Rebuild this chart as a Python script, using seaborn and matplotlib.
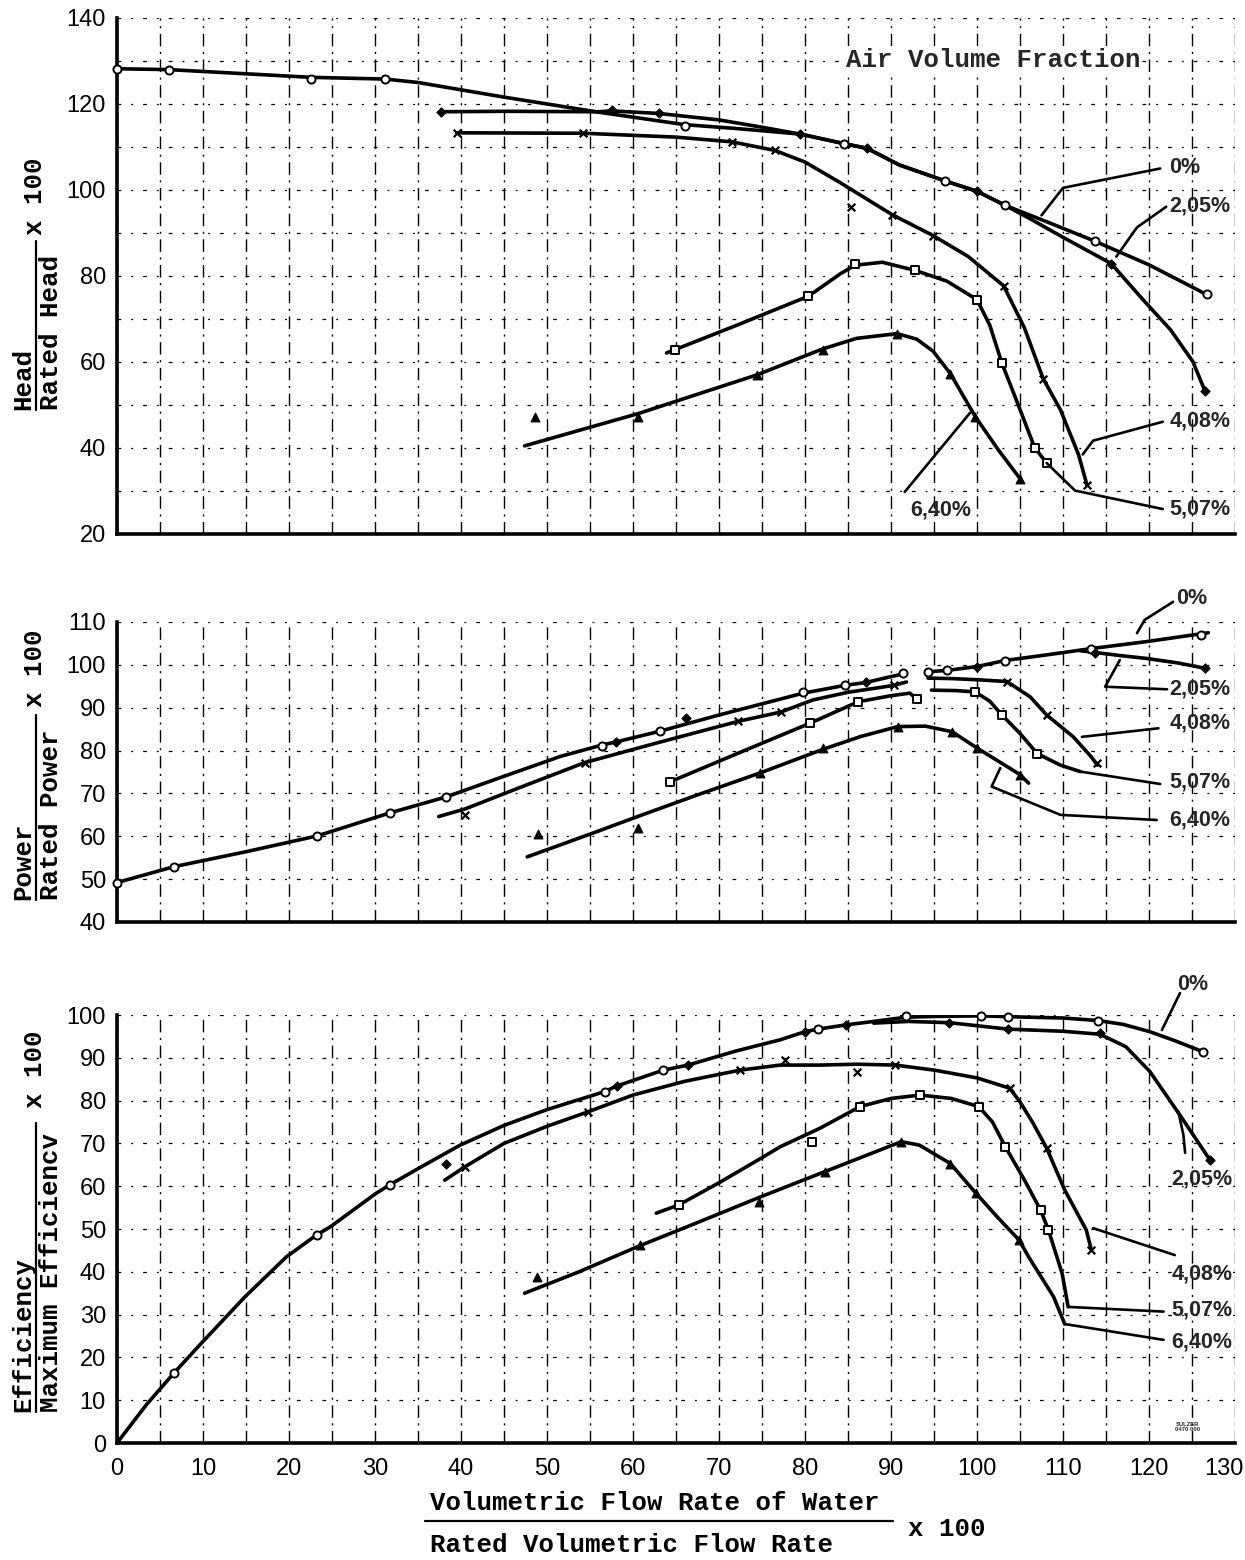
import matplotlib
matplotlib.use("Agg")
import matplotlib.pyplot as plt
from matplotlib.lines import Line2D
from matplotlib.ticker import MultipleLocator
from matplotlib.transforms import ScaledTranslation
from matplotlib import font_manager
import pandas as pd
import seaborn as sns

# ------------------------------------------------------------------
# Pump characteristics with air in the suction flow
# x: volumetric flow rate of water / rated flow rate x 100
# ------------------------------------------------------------------
SERIES = ["0%", "2,05%", "4,08%", "5,07%", "6,40%"]

# ---- Head / Rated Head x 100: curves ----
head_0_x = [0, 6, 22.6, 31.2, 35, 45, 56, 66, 72, 79.5, 84.5, 87.2, 91, 96.3, 100, 103.3, 108.5, 113.7, 120, 126.7]
head_0_y = [128.2, 128, 126.2, 125.8, 125, 121.6, 118.1, 115.2, 114.3, 113, 110.8, 109.7, 105.8, 102.1, 99.7, 96.4, 92.3, 88.1, 82.6, 75.7]
head_205_x = [37.7, 45, 56, 57.5, 63, 70, 75, 79.4, 84.5, 87.2, 91, 96.3, 100, 103.3, 106, 110, 115.6, 119.3, 122.5, 125.1, 126.5]
head_205_y = [118.2, 118.3, 118.2, 118.4, 117.8, 116.3, 114.6, 113, 110.8, 109.7, 105.8, 102.1, 99.7, 96.4, 93.5, 89, 82.9, 74.5, 67.5, 60.1, 53.3]
head_408_x = [39.5, 54.2, 65, 71.5, 76.5, 80, 84.1, 90.1, 94.9, 99, 103.1, 105.5, 107.7, 109.7, 111.8, 112.8]
head_408_y = [113.3, 113.2, 112.3, 111.2, 109.2, 106.5, 101.7, 94.3, 89.4, 84.5, 77.7, 68, 56.1, 48.9, 38.5, 31.3]
head_507_x = [63.9, 72, 80.4, 84.1, 85.8, 89, 92.8, 96.5, 100, 101.5, 102.9, 104.8, 106.7, 108.1]
head_507_y = [62.1, 68.5, 75.3, 80.5, 82.5, 83.2, 81.3, 78.8, 74.5, 68.5, 59.7, 50, 40.1, 36.5]
head_640_x = [47.4, 60.6, 74.4, 82, 86, 90.7, 93, 94.9, 96.9, 99.8, 102.5, 105]
head_640_y = [40.5, 48, 57, 63, 65.5, 66.6, 65.3, 62.5, 57.3, 47.3, 39.5, 32.9]

# ---- Head: measured points ----
head_pts_0_x = [0, 6, 22.6, 31.2, 66, 84.5, 96.3, 103.3, 113.7, 126.7]
head_pts_0_y = [128.2, 128, 125.8, 125.9, 115, 110.8, 102.1, 96.4, 88.1, 75.7]
head_pts_205_x = [37.7, 57.5, 63, 79.4, 87.2, 100, 115.6, 126.5]
head_pts_205_y = [118.2, 118.6, 117.8, 113, 109.7, 99.7, 82.9, 53.3]
head_pts_408_x = [39.5, 54.2, 71.5, 76.5, 85.4, 90.1, 94.9, 103.1, 107.7, 112.8]
head_pts_408_y = [113.3, 113.2, 111.2, 109.2, 96.1, 94.3, 89.4, 77.7, 56.1, 31.3]
head_pts_507_x = [64.9, 80.4, 85.8, 92.8, 100, 102.9, 106.7, 108.1]
head_pts_507_y = [62.9, 75.3, 82.9, 81.3, 74.5, 59.7, 40.1, 36.5]
head_pts_640_x = [48.6, 60.6, 74.4, 82.1, 90.7, 96.9, 99.8, 105]
head_pts_640_y = [47.3, 47.3, 56.9, 62.9, 66.6, 57.3, 47.3, 32.9]

# ---- Power / Rated Power x 100: curves (broken near 92-94) ----
power_0_left_x = [0, 6.6, 15, 23.3, 31.8, 38.3, 45, 51.5, 56.4, 58, 63.1, 70, 79.8, 84.6, 87.1, 91.4]
power_0_left_y = [49.2, 52.9, 56.4, 60.1, 65.5, 69.2, 74.0, 78.6, 81.3, 82.0, 84.5, 88.3, 93.4, 95.2, 95.9, 97.9]
power_0_right_x = [94.3, 96.5, 100, 103.2, 108, 113.3, 120, 126.9]
power_0_right_y = [98.4, 98.7, 99.6, 101.0, 102.3, 103.8, 105.5, 107.5]
power_205_x = [112.0, 113.7, 116.5, 119.7, 123.5, 126.5]
power_205_y = [103.3, 102.9, 102.2, 101.5, 100.4, 99.2]
power_408_left_x = [37.4, 40.5, 47, 54.4, 63, 72.2, 77.2, 80.9, 85, 90.3, 91.8]
power_408_left_y = [64.6, 66.4, 71.5, 77.2, 81.9, 86.8, 89.0, 91.8, 93.6, 95.2, 96.0]
power_408_right_x = [94.3, 97, 100.3, 103.5, 106.2, 108.1, 111.2, 113.3, 114.0]
power_408_right_y = [96.9, 96.8, 96.5, 96.1, 92.5, 88.3, 83.2, 78.5, 76.6]
power_507_left_x = [64.3, 72, 80.6, 86.2, 90, 92.2, 93.0]
power_507_left_y = [72.7, 79.2, 86.4, 91.4, 92.8, 93.4, 92.0]
power_507_right_x = [94.7, 97.5, 99.8, 101.5, 102.9, 105, 107, 109.7, 112]
power_507_right_y = [94.1, 94.0, 93.7, 91.5, 88.3, 84.0, 79.3, 76.6, 75.1]
power_640_x = [47.7, 55, 60.8, 67, 74.8, 82.1, 86.5, 90.8, 94, 97.1, 100, 102.5, 105, 106]
power_640_y = [55.2, 60.5, 64.8, 69.3, 74.8, 80.3, 83.3, 85.6, 85.7, 84.4, 80.6, 77.5, 74.4, 72.4]

# ---- Power: measured points ----
power_pts_0_x = [0, 6.6, 23.3, 31.8, 38.3, 56.4, 63.1, 79.8, 84.6, 91.4, 94.3, 96.5, 103.2, 113.3, 126]
power_pts_0_y = [49.2, 52.9, 60.1, 65.5, 69.2, 81.1, 84.5, 93.6, 95.2, 98.0, 98.4, 98.7, 101.0, 103.8, 106.9]
power_pts_205_x = [58, 66.2, 87.1, 100, 113.7, 126.5]
power_pts_205_y = [82, 87.6, 95.9, 99.6, 102.7, 99.2]
power_pts_408_x = [40.5, 54.4, 72.2, 77.2, 90.3, 103.5, 108.1, 113.9]
power_pts_408_y = [65, 77.2, 86.8, 89, 95.2, 96.1, 88.3, 77]
power_pts_507_x = [64.3, 80.6, 86.2, 93.0, 99.8, 102.9, 107]
power_pts_507_y = [72.7, 86.4, 91.4, 92.0, 93.7, 88.3, 79.3]
power_pts_640_x = [48.9, 60.6, 74.8, 82.1, 90.8, 97.1, 100, 105]
power_pts_640_y = [60.5, 62.0, 74.8, 80.5, 85.6, 84.4, 80.6, 74.4]

# ---- Efficiency / Maximum Efficiency x 100: curves ----
eff_0_x = [0, 3.4, 6.6, 9.8, 14.9, 19.7, 23.2, 24.8, 30.1, 31.7, 35.1, 39.9, 45, 50, 56.7, 58.1, 63.5, 66.4, 72, 77.1,
           80, 81.5, 84.8, 87.6, 91.8, 96, 100.5, 103.6, 110, 114.1, 117, 120.1, 123, 126.3]
eff_0_y = [0, 8.9, 16.3, 23.3, 34.2, 43.5, 48.6, 50.5, 58.3, 60.3, 64.2, 69.6, 74.2, 77.9, 82.1, 83.4, 87.1, 88.3, 91.6, 94.2,
           96.1, 96.7, 97.7, 98.4, 99.5, 99.7, 99.8, 99.6, 99.3, 98.7, 97.8, 96.1, 94.0, 91.4]
eff_205_x = [88, 92, 96.8, 103.6, 110, 114.3, 117.3, 120.1, 123.6, 127.1]
eff_205_y = [98.1, 98.5, 98.2, 96.7, 96.2, 95.5, 92.6, 86.8, 76.6, 66.1]
eff_408_x = [38.1, 40.5, 45, 50, 54.8, 60, 66, 72.4, 77.1, 81.7, 86, 90.5, 95.1, 100, 103.8, 105, 106.5, 108.1, 110.2, 112.7, 113.3]
eff_408_y = [61.4, 64.6, 70, 74.0, 77.4, 81.3, 84.5, 87.1, 88.3, 88.3, 88.5, 88.3, 87.1, 85.3, 82.9, 79.7, 74.8, 68.9, 59.1, 49.8, 45.1]
eff_507_x = [62.7, 65.3, 70, 75.2, 77.1, 81.7, 86.4, 90, 93.4, 97, 100.2, 101.8, 103.3, 105.5, 107.4, 108.3, 109.9, 110.6]
eff_507_y = [53.7, 55.6, 60.8, 66.9, 69.2, 73.5, 78.6, 80.5, 81.3, 80.5, 78.6, 75, 69.2, 61.5, 54.4, 49.8, 39.6, 31.8]
eff_640_x = [47.4, 53.6, 60.8, 67, 75.2, 82.3, 87, 91.2, 93.3, 96.9, 99.9, 102.5, 104.9, 106, 108.9, 110.2]
eff_640_y = [35, 39.9, 46.1, 51.1, 57.8, 63.4, 67.1, 70.4, 69.6, 65.3, 58.3, 52.5, 47.4, 43.5, 34.2, 27.8]

# ---- Efficiency: measured points ----
eff_pts_0_x = [6.6, 23.2, 31.7, 56.7, 63.5, 81.5, 91.8, 100.5, 103.6, 114.1, 126.3]
eff_pts_0_y = [16.3, 48.6, 60.3, 82.1, 87.1, 96.7, 99.8, 99.8, 99.5, 98.7, 91.4]
eff_pts_205_x = [38.3, 58.1, 66.4, 80, 84.8, 96.8, 103.6, 114.3, 127.1]
eff_pts_205_y = [65.3, 83.4, 88.3, 96.1, 97.7, 98.2, 96.7, 95.7, 66.1]
eff_pts_408_x = [40.5, 54.8, 72.4, 77.7, 86, 90.5, 103.8, 108.1, 113.3]
eff_pts_408_y = [64.6, 77.4, 87.1, 89.5, 86.7, 88.3, 82.9, 68.9, 45.1]
eff_pts_507_x = [65.3, 80.8, 86.4, 93.4, 100.2, 103.3, 107.4, 108.3]
eff_pts_507_y = [55.6, 70.4, 78.6, 81.3, 78.6, 69.2, 54.4, 49.8]
eff_pts_640_x = [48.8, 60.8, 74.6, 82.3, 91.2, 96.9, 99.9, 104.9]
eff_pts_640_y = [38.9, 46.3, 56.4, 63.4, 70.4, 65.3, 58.3, 47.4]

# ---- tick labels ----
x_ticks = list(range(0, 131, 10))
head_ticks = list(range(20, 141, 20))
power_ticks = list(range(40, 111, 10))
eff_ticks = list(range(0, 101, 10))


def curves_frame(parts):
    rows = []
    for name, seg, xs, ys in parts:
        for xv, yv in zip(xs, ys):
            rows.append({"series": name, "seg": f"{name}-{seg}", "flow": xv, "value": yv})
    return pd.DataFrame(rows)


def points_frame(parts):
    rows = []
    for name, xs, ys in parts:
        for xv, yv in zip(xs, ys):
            rows.append({"series": name, "flow": xv, "value": yv})
    return pd.DataFrame(rows)


head_curves = curves_frame([
    ("0%", 0, head_0_x, head_0_y), ("2,05%", 0, head_205_x, head_205_y),
    ("4,08%", 0, head_408_x, head_408_y), ("5,07%", 0, head_507_x, head_507_y),
    ("6,40%", 0, head_640_x, head_640_y)])
head_points = points_frame([
    ("0%", head_pts_0_x, head_pts_0_y), ("2,05%", head_pts_205_x, head_pts_205_y),
    ("4,08%", head_pts_408_x, head_pts_408_y), ("5,07%", head_pts_507_x, head_pts_507_y),
    ("6,40%", head_pts_640_x, head_pts_640_y)])

power_curves = curves_frame([
    ("0%", 0, power_0_left_x, power_0_left_y), ("0%", 1, power_0_right_x, power_0_right_y),
    ("2,05%", 0, power_205_x, power_205_y),
    ("4,08%", 0, power_408_left_x, power_408_left_y), ("4,08%", 1, power_408_right_x, power_408_right_y),
    ("5,07%", 0, power_507_left_x, power_507_left_y), ("5,07%", 1, power_507_right_x, power_507_right_y),
    ("6,40%", 0, power_640_x, power_640_y)])
power_points = points_frame([
    ("0%", power_pts_0_x, power_pts_0_y), ("2,05%", power_pts_205_x, power_pts_205_y),
    ("4,08%", power_pts_408_x, power_pts_408_y), ("5,07%", power_pts_507_x, power_pts_507_y),
    ("6,40%", power_pts_640_x, power_pts_640_y)])

eff_curves = curves_frame([
    ("0%", 0, eff_0_x, eff_0_y), ("2,05%", 0, eff_205_x, eff_205_y),
    ("4,08%", 0, eff_408_x, eff_408_y), ("5,07%", 0, eff_507_x, eff_507_y),
    ("6,40%", 0, eff_640_x, eff_640_y)])
eff_points = points_frame([
    ("0%", eff_pts_0_x, eff_pts_0_y), ("2,05%", eff_pts_205_x, eff_pts_205_y),
    ("4,08%", eff_pts_408_x, eff_pts_408_y), ("5,07%", eff_pts_507_x, eff_pts_507_y),
    ("6,40%", eff_pts_640_x, eff_pts_640_y)])

# ------------------------------------------------------------------
sns.set_theme(style="white")
installed = {f.name for f in font_manager.fontManager.ttflist}
NUM_FONT = "Liberation Sans Narrow" if "Liberation Sans Narrow" in installed else "Liberation Sans"
MONO = "Liberation Mono"
plt.rcParams["font.family"] = [NUM_FONT, "DejaVu Sans"]
plt.rcParams["axes.edgecolor"] = "black"

W, H = 1245, 1560
fig = plt.figure(figsize=(W / 100, H / 100), dpi=100)
fig.patch.set_facecolor("white")


def fx(px):
    return px / W


def fy(py):
    return 1 - py / H


def add_axes(top_px, bottom_px):
    return fig.add_axes([fx(117), fy(bottom_px), fx(1235) - fx(117), fy(top_px) - fy(bottom_px)])


ax_head = add_axes(18, 534)
ax_pow = add_axes(622, 922)
ax_eff = add_axes(1015, 1443)

MARKERS = {
    "0%": dict(marker="o", facecolors="white", edgecolors="black", linewidths=1.4, s=34),
    "2,05%": dict(marker="D", facecolors="black", edgecolors="black", linewidths=0.8, s=22),
    "4,08%": dict(marker="x", color="black", linewidths=1.6, s=30),
    "5,07%": dict(marker="s", facecolors="white", edgecolors="black", linewidths=1.4, s=30),
    "6,40%": dict(marker="^", facecolors="black", edgecolors="black", linewidths=0.8, s=40),
}

VGRID = dict(color="black", linewidth=1.0, linestyle=(0, (9, 4, 1.5, 4)))
HGRID = dict(color="black", linewidth=0.9, linestyle=(0, (3, 8, 1.5, 8)))


def style_axis(ax, ylim, yticks, ygrid_step, show_x):
    ax.set_xlim(0, 130)
    ax.set_ylim(*ylim)
    ax.set_xticks(x_ticks)
    ax.xaxis.set_minor_locator(MultipleLocator(5))
    ax.set_yticks(yticks)
    ax.yaxis.set_minor_locator(MultipleLocator(ygrid_step))
    ax.set_axisbelow(True)
    ax.grid(False)
    ax.xaxis.grid(True, which="both", **VGRID)
    ax.yaxis.grid(True, which="both", **HGRID)
    for side in ("top", "right"):
        ax.spines[side].set_visible(False)
    for side in ("left", "bottom"):
        ax.spines[side].set_linewidth(2.6)
        ax.spines[side].set_color("black")
    ax.tick_params(which="minor", length=0)
    ax.tick_params(axis="y", which="major", direction="out", length=5, width=1.6,
                   labelsize=17, pad=3, colors="black")
    ax.tick_params(axis="x", which="major", direction="out", length=5 if show_x else 0,
                   width=1.6, labelsize=17, pad=6, labelbottom=show_x, colors="black")
    ax.set_xlabel("")
    ax.set_ylabel("")


def draw_panel(ax, curves, points):
    sns.lineplot(data=curves, x="flow", y="value", units="seg", estimator=None, sort=False,
                 color="black", linewidth=2.6, legend=False, ax=ax, zorder=3)
    for name in SERIES:
        sub = points[points["series"] == name]
        sns.scatterplot(data=sub, x="flow", y="value", ax=ax, legend=False, zorder=4,
                        clip_on=False, **MARKERS[name])


def leaders(ax, items):
    for label, path, pos in items:
        xs = [p[0] for p in path]
        ys = [p[1] for p in path]
        ax.plot(xs, ys, color="black", linewidth=1.9, clip_on=False, zorder=5,
                solid_capstyle="round", solid_joinstyle="round")
        ax.text(pos[0], pos[1], label, ha="left", va="center", fontsize=15.5,
                fontweight="bold", family=["Liberation Sans", "DejaVu Sans"],
                clip_on=False, zorder=6)


# ---------------- Head ----------------
draw_panel(ax_head, head_curves, head_points)
style_axis(ax_head, (20, 140), head_ticks, 10, False)
ax_head.text(84.8, 130.3, "Air Volume Fraction", ha="left", va="center", family=MONO,
             fontsize=18.5, fontweight="bold", zorder=6,
             bbox=dict(facecolor="white", edgecolor="none", pad=1.0))
leaders(ax_head, [
    ("0%", [(107.5, 94.1), (110, 100.5), (121.3, 105)], (122.3, 105.2)),
    ("2,05%", [(116.2, 84.5), (118.6, 91.3), (122, 96.1)], (122.4, 96.3)),
    ("4,08%", [(112.3, 38.5), (113.5, 41.7), (121.6, 46.1)], (122.4, 46.2)),
    ("5,07%", [(108.1, 36.5), (111.4, 30.1), (121.6, 25.8)], (122.4, 25.8)),
    ("6,40%", [(99.2, 48.2), (91.6, 29.8)], (92.2, 25.6)),
])

# ---------------- Power ----------------
draw_panel(ax_pow, power_curves, power_points)
style_axis(ax_pow, (40, 110), power_ticks, 10, False)
leaders(ax_pow, [
    ("0%", [(118.6, 107.4), (119.5, 110.5), (122.8, 114.7)], (123.2, 115.4)),
    ("2,05%", [(116.6, 101.1), (114.9, 94.9), (122.1, 94.3)], (122.4, 94.3)),
    ("4,08%", [(112.2, 83.2), (121.1, 85.2)], (122.4, 86.4)),
    ("5,07%", [(112, 75.1), (121.3, 72.2)], (122.4, 72.7)),
    ("6,40%", [(102.7, 75.9), (101.7, 71.6), (109.7, 65), (120.9, 63.8)], (122.4, 63.8)),
])

# ---------------- Efficiency ----------------
draw_panel(ax_eff, eff_curves, eff_points)
style_axis(ax_eff, (0, 100), eff_ticks, 10, True)
leaders(ax_eff, [
    ("0%", [(121.5, 96.5), (123.6, 105.1)], (123.3, 107.2)),
    ("2,05%", [(123.4, 77.5), (124.0, 72), (124.2, 67.8)], (122.6, 61.6)),
    ("4,08%", [(113.5, 50.2), (123, 43.9)], (122.6, 39.5)),
    ("5,07%", [(110.6, 31.8), (121.7, 30.7)], (122.6, 31.0)),
    ("6,40%", [(110.2, 27.8), (121.7, 24.1)], (122.6, 23.6)),
])
ax_eff.text(124.5, 3.8, "SULZER\n0470 000", ha="center", va="center", fontsize=4.2,
            fontweight="bold", family=["Liberation Sans", "DejaVu Sans"], linespacing=1.1)

# keep the last flow tick label inside the canvas
fig.canvas.draw()
last = ax_eff.get_xticklabels()[-1]
last.set_horizontalalignment("right")
last.set_transform(last.get_transform() + ScaledTranslation(9 / 100, 0, fig.dpi_scale_trans))


# ---------------- fraction-style axis titles ----------------
def vertical_fraction(num, den, base_py, bar_top_py, x100_py):
    kw = dict(rotation=90, family=MONO, fontsize=18.5, fontweight="bold", color="black")
    fig.text(fx(23), fy(base_py), num, ha="center", va="bottom", **kw)
    fig.text(fx(51), fy(base_py), den, ha="center", va="bottom", **kw)
    fig.add_artist(Line2D([fx(36), fx(36)], [fy(base_py), fy(bar_top_py)],
                          transform=fig.transFigure, color="black", linewidth=1.6))
    fig.text(fx(35), fy(x100_py), "x 100", ha="center", va="center", **kw)


vertical_fraction("Head", "Rated Head", 410, 241, 196)
vertical_fraction("Power", "Rated Power", 900, 715, 668)
vertical_fraction("Efficiency", "Maximum Efficiencv", 1412, 1123, 1069)

mono = dict(family=MONO, fontsize=18.5, fontweight="bold", color="black")
fig.text(fx(430), fy(1503), "Volumetric Flow Rate of Water", ha="left", va="center", **mono)
fig.add_artist(Line2D([fx(425), fx(893)], [fy(1521), fy(1521)], transform=fig.transFigure,
                      color="black", linewidth=1.6))
fig.text(fx(430), fy(1545), "Rated Volumetric Flow Rate", ha="left", va="center", **mono)
fig.text(fx(908), fy(1529), "x 100", ha="left", va="center", **mono)

fig.savefig("out.png", dpi=100, facecolor="white")
